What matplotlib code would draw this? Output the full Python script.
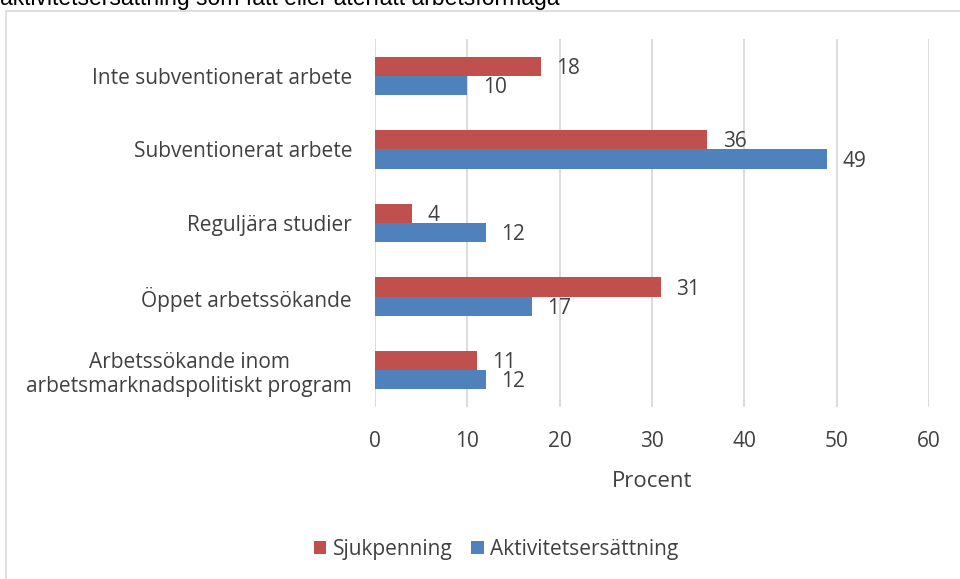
import matplotlib.pyplot as plt
import numpy as np
from matplotlib.patches import Rectangle

# Data
categories = ['Inte subventionerat arbete', 'Subventionerat arbete', 'Reguljära studier',
              'Öppet arbetssökande', 'Arbetssökande inom\narbetsmarknadspolitiskt program']
sjukpenning = [18, 36, 4, 31, 11]
aktivitet = [10, 49, 12, 17, 12]
xticks = [0, 10, 20, 30, 40, 50, 60]

red = '#C0504D'
blue = '#4F81BD'
txt = '#404040'
fs = 15

plt.rcParams['font.family'] = ['Open Sans', 'DejaVu Sans']

fig = plt.figure(figsize=(9.6, 5.79), dpi=100)
ax = fig.add_axes([375 / 960, 1 - 407 / 579, (929 - 375) / 960, (407 - 39) / 579])

# chart frame
fig.patches.append(Rectangle((6 / 960, -0.1), 1.2, 1 - 11 / 579 + 0.1, transform=fig.transFigure,
                             fill=False, edgecolor='#D9D9D9', linewidth=1.2))

# title line at the top, cut off by the image edge as in the original
fig.text(0.0, 1 - 5 / 579, 'aktivitetsersättning som fått eller återfått arbetsförmåga',
         family='Liberation Sans', fontsize=16.5, color='black', va='baseline', ha='left')

y = np.arange(len(categories))
h = 0.26
bars_r = ax.barh(y - h / 2, sjukpenning, height=h, color=red, label='Sjukpenning', zorder=3)
bars_b = ax.barh(y + h / 2, aktivitet, height=h, color=blue, label='Aktivitetsersättning', zorder=3)

for bars, vals in ((bars_r, sjukpenning), (bars_b, aktivitet)):
    for b, v in zip(bars, vals):
        ax.annotate(str(v), (v, b.get_y() + b.get_height() / 2), xytext=(11, -1.5),
                    textcoords='offset points', va='center', ha='left', fontsize=fs, color=txt)

ax.set_xlim(0, 60)
ax.set_ylim(len(categories) - 0.5, -0.5)
ax.set_xticks(xticks)
ax.set_yticks(y)
ax.set_yticklabels(categories, fontsize=fs, color=txt, ha='right')
ax.tick_params(axis='x', labelsize=fs, labelcolor=txt, length=0, pad=17)
ax.tick_params(axis='y', length=0, pad=16.5)
ax.grid(axis='x', color='#D9D9D9', linewidth=1.3, zorder=0)
for s in ax.spines.values():
    s.set_visible(False)
ax.set_xlabel('Procent', fontsize=16, color=txt, labelpad=14)

for lbl in ax.get_yticklabels():
    lbl.set_multialignment('center')

fig.legend(handles=[bars_r, bars_b], loc='center', bbox_to_anchor=(496 / 960, 1 - 549 / 579),
           ncol=2, frameon=False, fontsize=fs, labelcolor=txt, handlelength=0.6, handleheight=0.6,
           handletextpad=0.3, columnspacing=0.9)

fig.savefig('out.png', dpi=100)
